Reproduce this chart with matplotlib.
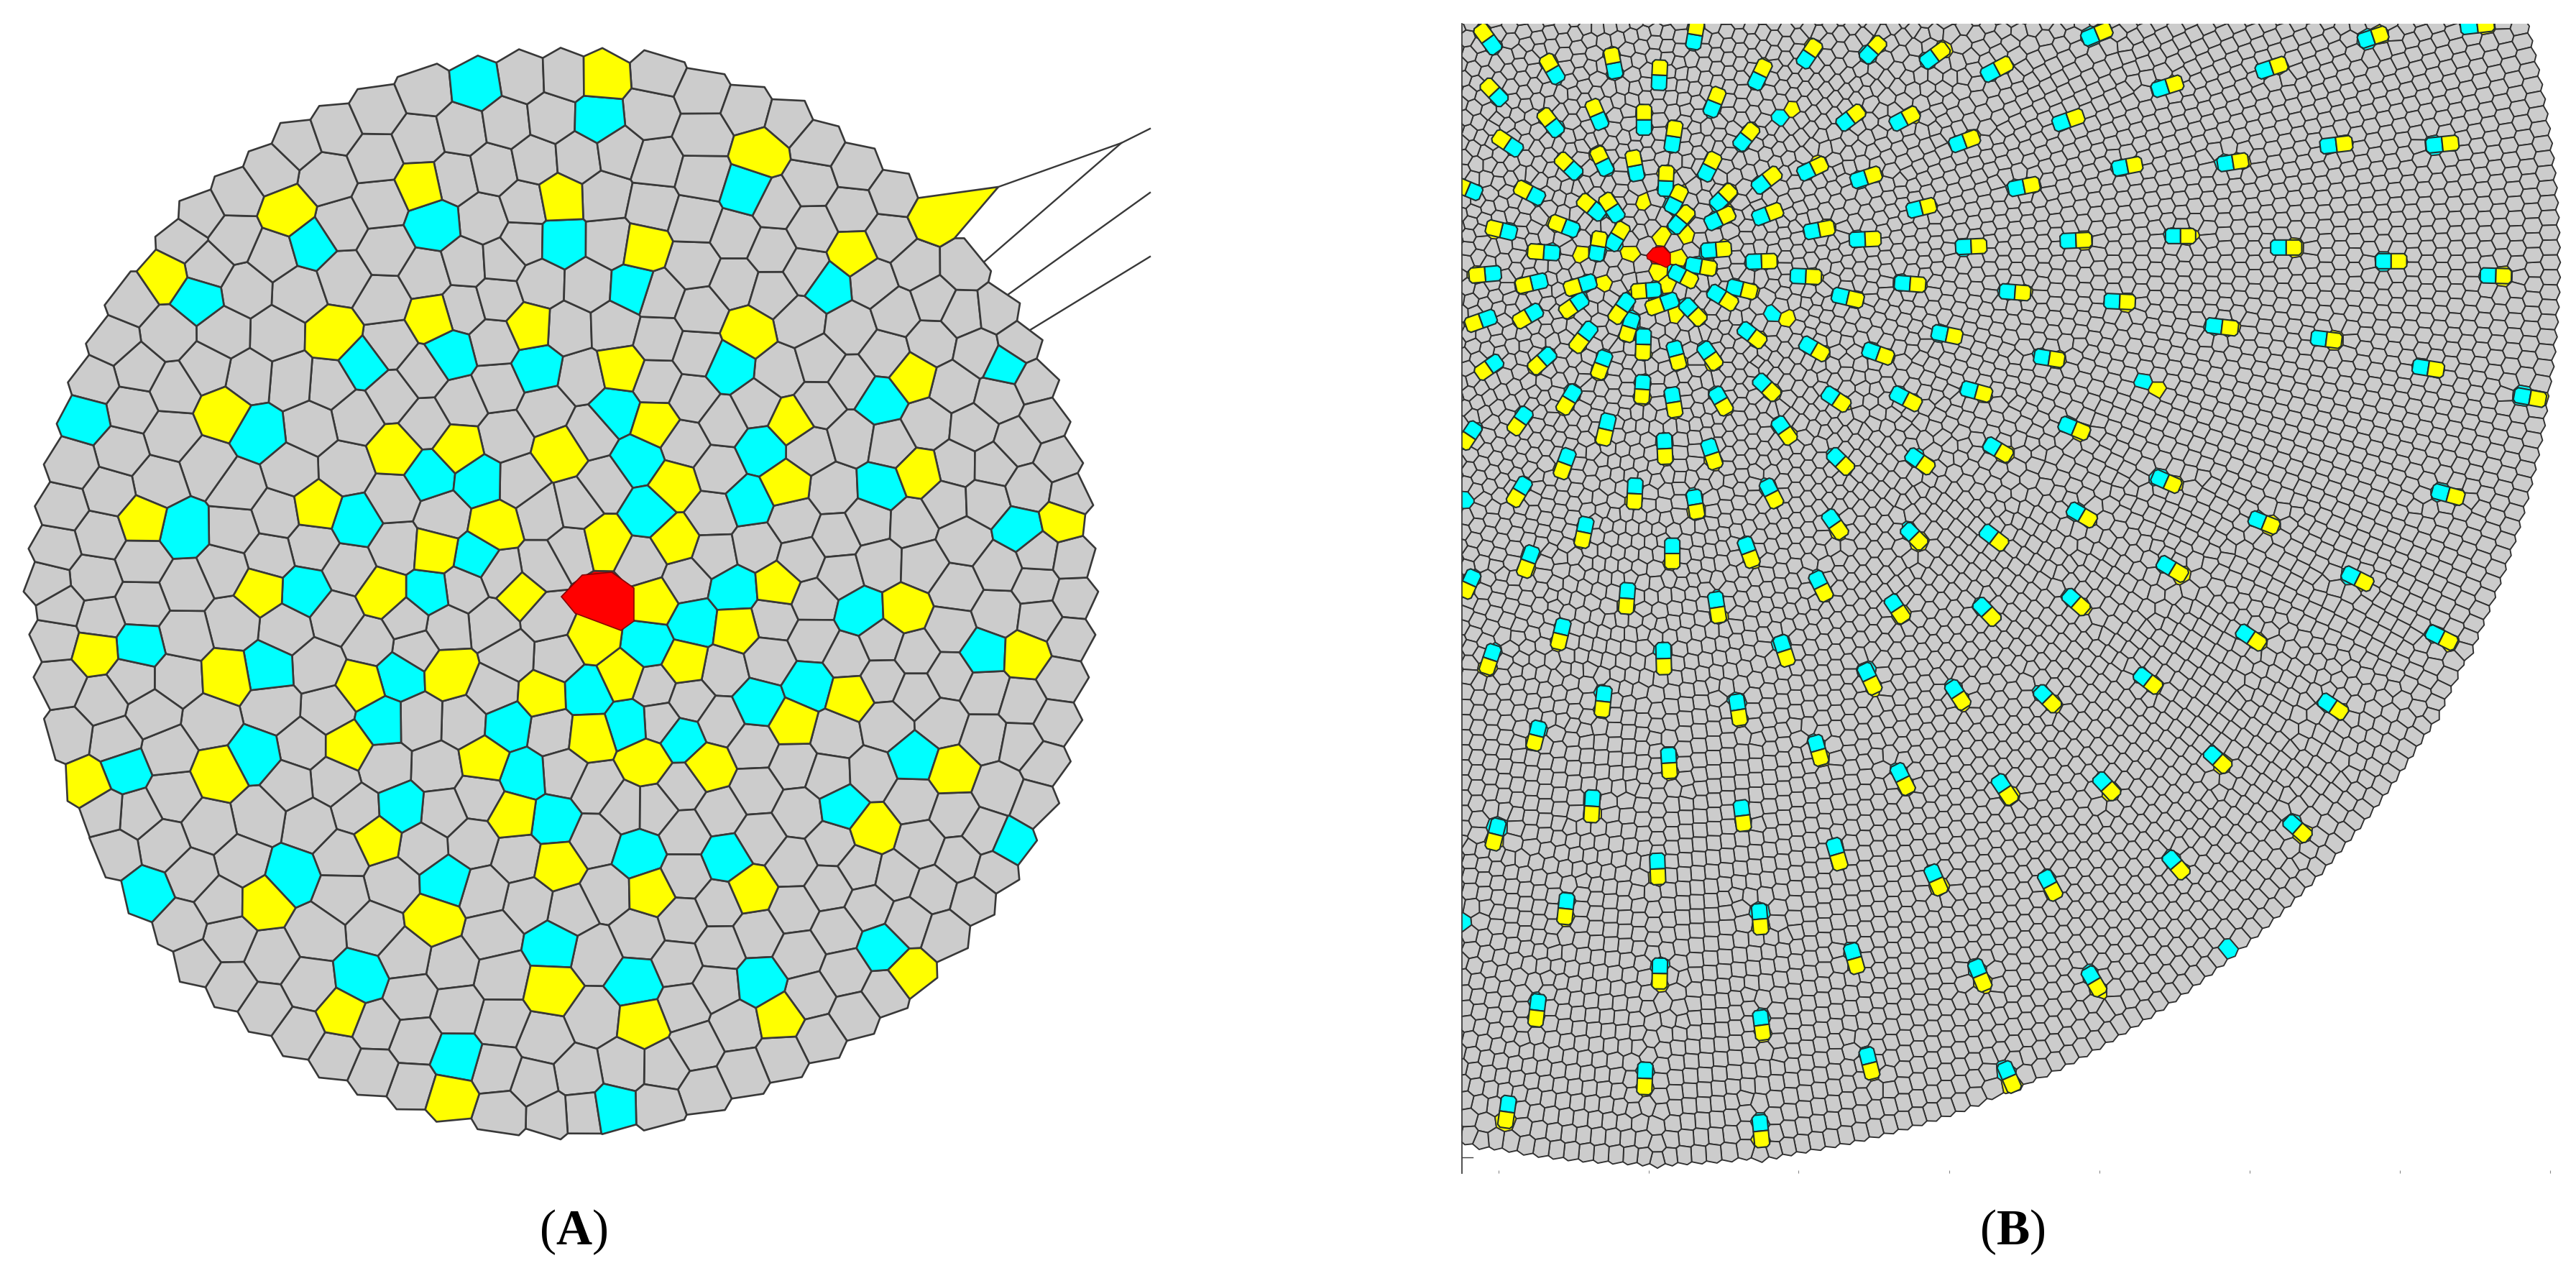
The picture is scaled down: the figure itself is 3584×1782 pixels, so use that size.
import numpy as np
import matplotlib
matplotlib.use("Agg")
import matplotlib.pyplot as plt
from matplotlib.collections import PolyCollection
from matplotlib.patches import Polygon, Rectangle
from matplotlib.tri import Triangulation

GREY, CYAN, YELLOW, RED = "#cccccc", "#00ffff", "#ffff00", "#ff0000"
EDGE = "#383838"

# ---------- Panel A: cell centres, per crop (origin, scale) ----------
A_C1 = [(1300,230),(850,665),(1185,610),(1530,660),(540,810),(1228,965),(1465,1005),(990,990),(232,1140),(705,1180),(1170,1295),(1310,1310),(970,1420),(500,1445),(1300,1520)]
A_Y1 = [(785,580),(1150,505),(1525,540),(450,750),(1180,865),(1445,890),(912,915),(610,1125),(1080,1230),(1250,1220),(1530,1230),(1350,1435),(865,1385),(1185,1500),(390,1420)]
A_C2 = [(65,325),(470,520),(160,785),(690,780),(1175,995),(420,1000),(110,1120),(835,1090),(175,1255),(510,1225),(200,1395),(475,1370),(835,1330),(1215,1445)]
A_Y2 = [(75,205),(505,415),(185,675),(760,690),(475,905),(125,1005),(920,1025),(220,1155),(590,1150),(270,1320),(575,1320),(940,1290),(80,1480),(275,1475),(1330,1420),(980,590)]
A_C3 = [(830,45),(1170,50),(380,195),(730,255),(1090,270),(1040,400),(1385,410),(1430,545),(1510,670),(695,490),(340,530),(1095,635),(795,820),(400,870),(1220,835),(985,1100),(1510,1010),(1245,1315)]
A_Y3 = [(710,40),(1045,50),(1420,50),(260,205),(620,275),(985,300),(1225,265),(950,465),(1320,505),(1480,325),(1400,655),(1520,790),(600,540),(240,570),(1030,720),(720,890),(1185,940),(935,1195),(1505,1125),(1225,1425)]
A_C4 = [(325,130),(435,40),(200,190),(35,320),(150,405),(290,445),(500,350),(640,300),(780,100),(1115,210),(925,500),(730,630),(1190,735),(175,760),(415,770),(840,1015),(165,1110),(505,1110),(105,1455)]
A_Y4 = [(215,70),(440,145),(555,30),(300,240),(130,275),(40,440),(195,505),(365,525),(595,405),(750,330),(900,95),(1230,215),(1030,535),(815,695),(210,865),(480,860),(915,1090),(185,1220),(560,1205),(50,170)]
A_RED = [(781,830),(810,800),(851,796),(882,818),(882,864),(864,877),(800,853)]
A_SPIKE_TIPS = [(1389,260),(1313,338)]
A_SPIKE_SEED = (1300,301)
A_LINES = [[(1389,260),(1560,199),(1600,179)],[(1351,380),(1560,199)],[(1384,423),(1600,268)],[(1412,472),(1600,357)]]
A_RING_R = [80,138,197,255,314,372,430,489,547,606,664,722]
A_RING_N = [9,16,23,30,36,42,48,54,60,67,73,80]

# ---------- Panel B: (cyan x, cyan y, yellow x, yellow y) per crop ----------
B_P5 = [(290,130,250,75),(555,255,523,200),(800,235,788,172),(985,285,988,222),(1130,115,1140,55),(1392,280,1420,222),(318,348,275,303),(738,447,713,388),(922,472,922,408),(1205,395,1228,337),(552,477,513,427),(1040,542,1050,477),(1330,535,1368,487),(380,557,325,520),(760,640,733,585),(890,663,878,600),(1182,663,1210,608),(630,655,585,612),(1012,727,1015,663),(473,760,415,730),(208,738,165,720),(1043,800,1070,745),(1232,785,1275,742),(1408,712,1460,672),(728,825,678,785),(805,833,770,780),(1058,880,1098,832),(1210,865,1268,837),(1408,845,1468,822),(618,895,558,872),(795,953,827,900),(358,908,295,893),(725,998,735,937),(1192,985,1255,980),(537,995,470,990),(1380,1032,1445,1030),(1128,1047,1192,1058),(292,1082,225,1088),(1058,1080,1113,1108),(485,1115,420,1130),(688,1120,623,1140),(962,1150,900,1155),(1300,1140,1362,1155),(1222,1165,1278,1200),(848,1200,810,1255),(1030,1197,965,1220),(655,1197,603,1233),(1105,1220,1148,1265),(465,1243,410,1275),(272,1268,210,1290),(870,1277,852,1335),(690,1320,648,1375),(1348,1320,1398,1358),(920,1345,918,1410),(1050,1395,1065,1452),(1180,1400,1215,1450),(520,1425,473,1467),(755,1435,735,1490),(300,1455,250,1490)]
B_S5_C = [(1490,432),(1460,1250)]
B_S5_Y = [(920,785),(1100,925),(995,925),(658,1000),(865,1000),(1068,1015),(980,1075),(757,1120),(1022,1128),(1053,1255)]
B_P7 = [(95,190,130,138),(357,170,398,125),(610,190,662,152),(865,245,925,213),(1282,95,1342,70),(260,450,310,412),(482,450,538,420),(1162,452,1225,430),(730,540,790,518),(97,658,155,630),(318,690,380,670),(975,725,1040,712),(1408,640,1470,628),(550,815,610,800),(122,905,185,893),(312,940,378,937),(755,970,820,967),(1192,945,1258,942),(65,1092,130,1095),(500,1122,565,1127),(240,1175,305,1190),(938,1157,1003,1162),(1375,1197,1440,1200),(655,1330,718,1343),(105,1380,160,1412),(368,1405,430,1427),(1082,1430,1145,1440)]
B_S7_C = [(1505,1530)]
B_S7_Y = [(42,392),(22,1270)]
B_P8 = [(875,105,935,85),(1305,50,1375,42),(450,233,513,212),(15,310,78,290),(718,548,785,540),(1160,545,1228,538),(288,622,352,612),(70,925,133,925),(510,973,575,973),(948,1030,1013,1030),(1385,1090,1450,1092),(240,1300,308,1308),(678,1352,742,1360),(1103,1472,1168,1482)]
B_P9 = [(625,80,592,135),(917,35,913,95),(1040,88,1050,150),(1228,88,1258,140),(1412,35,1457,78),(208,235,178,280),(422,172,387,222),(770,200,755,265),(1490,212,1525,262),(1007,280,1010,345),(1195,305,1215,365),(602,345,580,405),(418,465,385,520),(885,468,882,533),(1132,515,1142,575),(1440,472,1468,527),(678,630,665,693),(1040,718,1040,782),(1348,715,1370,775),(450,752,427,815),(205,850,180,905),(853,905,848,970),(1222,943,1232,1007),(582,1055,567,1118),(1497,1125,1517,1187),(1003,1155,1005,1222),(290,1162,270,1222),(755,1335,748,1400),(1310,1370,1320,1435),(480,1480,465,1540)]
B_S9_C = [(172,525)]
B_P10 = [(120,25,165,55),(370,25,422,52),(625,5,680,20),(982,135,1035,157),(708,210,755,238),(140,248,178,285),(425,250,470,282),(1318,328,1368,350),(123,472,155,518),(1012,447,1060,475),(408,520,445,557),(695,527,738,560),(75,695,100,745),(1340,642,1390,672),(350,780,380,825),(672,793,710,833),(995,760,1035,795),(252,1030,277,1082),(570,1092,600,1138),(892,1110,930,1148),(1255,1047,1298,1080),(70,1290,85,1343),(372,1395,398,1447),(740,1435,772,1483),(1108,1427,1145,1467),(1510,1332,1550,1368)]
B_S10_Y = [(1315,5)]
B_P11 = [(765,30,768,90),(528,197,525,260),(992,235,998,295),(232,308,220,368),(1283,385,1297,445),(730,442,732,503),(447,597,442,658),(1048,638,1052,698),(1337,793,1350,850),(738,850,737,910),(358,992,352,1055),(1052,1052,1058,1110),(1385,1200,1397,1260),(692,1257,690,1320),(265,1388,258,1450),(1050,1462,1055,1525)]
B_S11_C = [(120,685)]
B_P12 = [(997,408,1028,447),(668,547,695,592),(18,600,35,655),(328,622,348,675),(138,970,155,1028),(447,997,468,1048),(218,1367,235,1423)]
B_S12_C = [(822,897)]
B_PX = [(3509,551,3531,555),(3395,685,3417,691),(3270,800,3290,810),(3140,723,3160,731),(3123,881,3141,893),(3387,882,3407,892),(3237,977,3255,989)]
B_RED = [(2291,355),(2300,345),(2314,343),(2324,353),(2324,368),(2318,372),(2292,360)]
B_TICKS = [2085,2294,2502,2712,2921,3130,3339,3548]


def crop(pts, ox, oy, sx, sy):
    p = np.array(pts, float)
    return np.column_stack([ox + p[:, 0] / sx, oy + p[:, 1] / sy])


def rings(radii, counts, c0, c1, rmax):
    """Ring seeds whose centre drifts from c0 (core) to c1 (outer edge)."""
    out = []
    for i, (r, n) in enumerate(zip(radii, counts)):
        t = (np.arange(n) + 0.5 * (i % 2)) * 2 * np.pi / n
        f = min(r / rmax, 1.0)
        cx = c0[0] + (c1[0] - c0[0]) * f
        cy = c0[1] + (c1[1] - c0[1]) * f
        out.append(np.column_stack([cx + r * np.cos(t), cy + r * np.sin(t)]))
    return np.vstack(out)


def voronoi(pts):
    tr = Triangulation(pts[:, 0], pts[:, 1])
    T = tr.triangles
    a, b, c = pts[T[:, 0]], pts[T[:, 1]], pts[T[:, 2]]
    d = 2 * (a[:, 0] * (b[:, 1] - c[:, 1]) + b[:, 0] * (c[:, 1] - a[:, 1]) + c[:, 0] * (a[:, 1] - b[:, 1]))
    d = np.where(np.abs(d) < 1e-9, 1e-9, d)
    A, B, C = (a ** 2).sum(1), (b ** 2).sum(1), (c ** 2).sum(1)
    ux = (A * (b[:, 1] - c[:, 1]) + B * (c[:, 1] - a[:, 1]) + C * (a[:, 1] - b[:, 1])) / d
    uy = (A * (c[:, 0] - b[:, 0]) + B * (a[:, 0] - c[:, 0]) + C * (b[:, 0] - a[:, 0])) / d
    cc = np.column_stack([ux, uy])
    hull = np.zeros(len(pts), bool)
    for j in range(3):
        m = tr.neighbors[:, j] == -1
        hull[T[m, j]] = True
        hull[T[m, (j + 1) % 3]] = True
    return T, cc, hull


def cells(grey, real_mask, cyan, yellow, red, gap, iters, limit):
    """Voronoi polygons for grey + coloured seeds; grey seeds are relaxed around the fixed coloured ones."""
    col = np.vstack([cyan, yellow, red])
    d2 = ((grey[:, None, :] - col[None, :, :]) ** 2).sum(-1).min(1)
    keep = d2 > gap ** 2
    grey, real = grey[keep], real_mask[keep]
    pts = np.vstack([grey, col])
    real = np.concatenate([real, np.ones(len(col), bool)])
    kinds = np.concatenate([np.zeros(len(grey), int), np.full(len(cyan), 1), np.full(len(yellow), 2), np.full(len(red), 3)])
    movable = (kinds == 0) & real
    for _ in range(iters):
        T, cc, hull = voronoi(pts)
        tot = np.zeros_like(pts)
        cnt = np.zeros(len(pts))
        np.add.at(tot, T.ravel(), np.repeat(cc, 3, axis=0))
        np.add.at(cnt, T.ravel(), 1)
        mv = movable & ~hull & (cnt > 0)
        delta = tot[mv] / cnt[mv, None] - pts[mv]
        n = np.maximum(np.linalg.norm(delta, axis=1, keepdims=True), 1e-9)
        pts[mv] += delta * np.minimum(1.0, limit / n)
    T, cc, hull = voronoi(pts)
    inc = [[] for _ in pts]
    for ti, tv in enumerate(T):
        for v in tv:
            inc[v].append(ti)
    polys, cols = [], []
    palette = [GREY, CYAN, YELLOW, RED]
    for i in np.argsort(kinds, kind="stable"):
        if hull[i] or not real[i]:
            continue
        v = cc[inc[i]]
        ang = np.arctan2(v[:, 1] - pts[i, 1], v[:, 0] - pts[i, 0])
        polys.append(v[np.argsort(ang)])
        cols.append(palette[kinds[i]])
    return polys, cols


def convex(points):
    p = sorted(map(tuple, points))
    def half(seq):
        h = []
        for q in seq:
            while len(h) > 1 and (h[-1][0]-h[-2][0])*(q[1]-h[-2][1]) - (h[-1][1]-h[-2][1])*(q[0]-h[-2][0]) <= 0:
                h.pop()
            h.append(q)
        return h[:-1]
    return half(p) + half(p[::-1])


def pair_quads(cy, ye, hw):
    """Radial cell pair: two brick-shaped cells with chamfered free ends, sharing one wall."""
    cq, yq = [], []
    for c, y in zip(cy, ye):
        u = y - c
        L = max(np.linalg.norm(u), 1e-6)
        u = u / L
        n = np.array([-u[1], u[0]])
        m = (c + y) / 2
        hl = max(L, 2 * hw * 0.95)
        ch = hw * 0.35
        cq.append([m + n*hw, m + n*hw - u*(hl-ch), m + n*(hw-ch) - u*hl, m - n*(hw-ch) - u*hl, m - n*hw - u*(hl-ch), m - n*hw])
        yq.append([m + n*hw, m + n*hw + u*(hl-ch), m + n*(hw-ch) + u*hl, m - n*(hw-ch) + u*hl, m - n*hw + u*(hl-ch), m - n*hw])
    return cq, yq


fig = plt.figure(figsize=(35.84, 17.82), dpi=100, facecolor="white")
ax = fig.add_axes([0, 0, 1, 1])
ax.set_xlim(0, 3584)
ax.set_ylim(1782, 0)
ax.axis("off")

# ---------- Panel A ----------
a_cyan = np.vstack([crop(A_C1, 0, 0, 1.96, 1.96), crop(A_C2, 800, 0, 1.96, 1.96), crop(A_C3, 0, 800, 1.96, 1.96), crop(A_C4, 800, 800, 1.96, 1.96)])
a_yel = np.vstack([crop(A_Y1, 0, 0, 1.96, 1.96), crop(A_Y2, 800, 0, 1.96, 1.96), crop(A_Y3, 0, 800, 1.96, 1.96), crop(A_Y4, 800, 800, 1.96, 1.96)])
a_red = np.array(A_RED, float).mean(0, keepdims=True)
core, disc = (838, 832), (780, 823)
real = rings(A_RING_R, A_RING_N, core, disc, 750)
t0 = (np.arange(80) + 0.5) * 2 * np.pi / 80
g0 = np.column_stack([disc[0] + 764 * np.cos(t0), disc[1] + 782 * np.sin(t0)])
g1 = rings([840, 900], [86, 90], disc, disc, 750)
ghost = np.vstack([g0, g1])
grey = np.vstack([real, ghost])
mask = np.concatenate([np.ones(len(real), bool), np.zeros(len(ghost), bool)])
polys, cols = cells(grey, mask, a_cyan, a_yel, a_red, 35, 25, 12)
ax.add_collection(PolyCollection(polys, facecolors=cols, edgecolors=EDGE, linewidths=1.9, zorder=2))
spike_cell = min((p for p, c in zip(polys, cols) if c == YELLOW),
                 key=lambda p: np.hypot(*(p.mean(0) - np.array(A_SPIKE_SEED))))
spike = convex(np.vstack([spike_cell, np.array(A_SPIKE_TIPS, float)]))
ax.add_patch(Polygon(spike, closed=True, fc=YELLOW, ec=EDGE, lw=1.9, zorder=3))
ax.add_patch(Polygon(A_RED, closed=True, fc=RED, ec="#880000", lw=1.2, zorder=3))
for ln in A_LINES:
    p = np.array(ln)
    ax.plot(p[:, 0], p[:, 1], color=EDGE, lw=1.7, zorder=1)

# ---------- Panel B ----------
def pairs(lst, ox, oy, s, sy=None):
    p = np.array(lst, float)
    sy = sy or s
    return crop(p[:, :2], ox, oy, s, sy), crop(p[:, 2:], ox, oy, s, sy)

cs, ys = [], []
for lst, o in [(B_P5, (1980, 20, 3, 3)), (B_P7, (2480, 20, 3, 3)), (B_P8, (3000, 20, 3, 3)), (B_P9, (1980, 520, 3, 3)),
               (B_P10, (2500, 540, 2.613, 2.613)), (B_P11, (1980, 1040, 2.24, 2.8)), (B_P12, (2680, 1000, 1.96, 2.8)), (B_PX, (0, 0, 1, 1))]:
    c_, y_ = pairs(lst, *o)
    cs.append(c_)
    ys.append(y_)
pair_c, pair_y = np.vstack(cs), np.vstack(ys)
cs += [crop(B_S5_C, 1980, 20, 3, 3), crop(B_S7_C, 2480, 20, 3, 3), crop(B_S9_C, 1980, 520, 3, 3), crop(B_S11_C, 1980, 1040, 2.24, 2.8), crop(B_S12_C, 2680, 1000, 1.96, 2.8)]
ys += [crop(B_S5_Y, 1980, 20, 3, 3), crop(B_S7_Y, 2480, 20, 3, 3), crop(B_S10_Y, 2500, 540, 2.613, 2.613)]
b_cyan, b_yel = np.vstack(cs), np.vstack(ys)
b_red = np.array(B_RED, float).mean(0, keepdims=True)

cen = np.array([2306.0, 365.0])
R_EDGE = 1256.0
radii, counts = [], []
r = 34.0
while r < R_EDGE - 10:
    step = np.interp(r, [0, 200, 600, 1300], [15.5, 17, 19.5, 20.5])
    radii.append(r)
    counts.append(int(round(2 * np.pi * r / step)))
    r += step
radii[-1] = R_EDGE - 10
real = rings(radii, counts, cen, cen, R_EDGE)
gr = [R_EDGE + 10, R_EDGE + 30, R_EDGE + 50]
ghost = rings(gr, [counts[-1]] * 3, cen, cen, R_EDGE)
t = (np.arange(counts[-1]) + 0.5 * ((len(radii) - 1) % 2 == 0)) * 2 * np.pi / counts[-1]
ghost[:counts[-1]] = np.column_stack([cen[0] + gr[0] * np.cos(t), cen[1] + gr[0] * np.sin(t)])
grey = np.vstack([real, ghost])
mask = np.concatenate([np.ones(len(real), bool), np.zeros(len(ghost), bool)])
win = (grey[:, 0] > 1970) & (grey[:, 1] > -30)
polys, cols = cells(grey[win], mask[win], b_cyan, b_yel, b_red, 14, 6, 4)
clip_b = Rectangle((2033, 33), 1560, 1650, transform=ax.transData)
pc = PolyCollection(polys, facecolors=cols, edgecolors="#303030", linewidths=1.35, zorder=2)
ax.add_collection(pc)
pc.set_clip_path(clip_b)
cq, yq = pair_quads(pair_c, pair_y, 10.5)
pq = PolyCollection(cq + yq, facecolors=[CYAN] * len(cq) + [YELLOW] * len(yq), edgecolors="#203030", linewidths=1.5, zorder=3)
ax.add_collection(pq)
pq.set_clip_path(clip_b)
ax.add_patch(Polygon(B_RED, closed=True, fc=RED, ec="#880000", lw=1.0, zorder=4))
ax.plot([2033.5, 2033.5], [33, 1632], color="#404040", lw=1.3, zorder=4)
ax.plot([2034, 2049], [1610, 1610], color="#404040", lw=1.0, zorder=4)
ax.plot(B_TICKS, [1630] * len(B_TICKS), ls="none", marker="|", ms=3, mew=0.8, color="#888888", zorder=4)

# ---------- Labels ----------
plt.rcParams["mathtext.fontset"] = "custom"
plt.rcParams["mathtext.rm"] = "Liberation Serif"
plt.rcParams["mathtext.bf"] = "Liberation Serif:bold"
for lab, x in [("A", 798), ("B", 2800)]:
    ax.text(x, 1714, "($\\mathbf{%s}$)" % lab, family="Liberation Serif", fontsize=50, ha="center", va="center", color="black")

fig.savefig("out.png", dpi=100, facecolor="white")
